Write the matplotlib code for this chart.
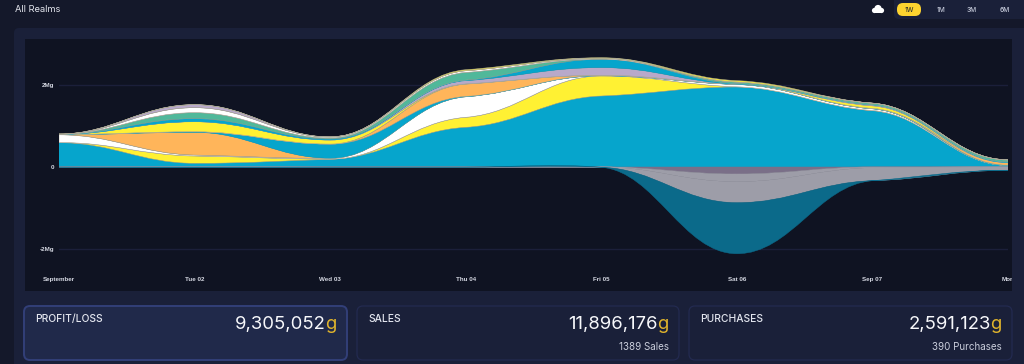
import matplotlib
matplotlib.use('Agg')
import matplotlib.pyplot as plt
import numpy as np
from matplotlib.patches import FancyBboxPatch, PathPatch, Rectangle, Circle
from matplotlib.path import Path
from matplotlib.transforms import Bbox

# values in millions of gold, one per day
days = [0, 1, 2, 3, 4, 5, 6, 7]
day_labels = ['September', 'Tue 02', 'Wed 03', 'Thu 04', 'Fri 05', 'Sat 06', 'Sep 07', 'Mon']

blue_a = [0.593, 0.090, 0.188, 0.968, 1.732, 1.951, 1.373, 0.037]
yellow_a = [0.005, 0.178, 0.005, 0.244, 0.488, 0.005, 0.005, 0.002]
white_a = [0.188, 0.024, 0.017, 0.500, 0.005, 0.056, 0.041, 0.002]
orange_a = [0.002, 0.554, 0.007, 0.002, 0.002, 0.002, 0.002, 0.002]
blue_b = [0.002, 0.012, 0.341, 0.007, 0.002, 0.002, 0.002, 0.002]
orange_b = [0.002, 0.002, 0.002, 0.300, 0.007, 0.002, 0.007, 0.061]
yellow_b = [0.002, 0.244, 0.098, 0.005, 0.002, 0.002, 0.061, 0.002]
lilac_a = [0.002, 0.002, 0.002, 0.080, 0.188, 0.002, 0.024, 0.002]
blue_c = [0.002, 0.073, 0.024, 0.012, 0.202, 0.012, 0.002, 0.012]
green_a = [0.002, 0.146, 0.024, 0.188, 0.007, 0.037, 0.037, 0.049]
white_b = [0.002, 0.122, 0.024, 0.041, 0.017, 0.002, 0.002, 0.002]
lilac_b = [0.002, 0.073, 0.002, 0.002, 0.002, 0.002, 0.002, 0.002]
yellow_c = [0.002, 0.002, 0.002, 0.024, 0.012, 0.032, 0.002, 0.002]

mauve_n = [0, 0, 0, 0, 0, 0.171, 0, 0]
grey_n1 = [0, 0.003, 0, 0, 0, 0.188, 0.020, 0]
grey_n2 = [0, 0.003, 0, 0, 0.005, 0.512, 0.314, 0.080]
teal_n = [0.004, 0.004, 0.004, 0.004, 0.002, 1.244, 0, 0]

pos_series = [blue_a, yellow_a, white_a, orange_a, blue_b, orange_b, yellow_b,
              lilac_a, blue_c, green_a, white_b, lilac_b, yellow_c]
pos_colors = ['#06a5cc', '#fff133', '#ffffff', '#ffb55a', '#06a5cc', '#ffb55a', '#fff133',
              '#b8a9c9', '#06a5cc', '#50b89a', '#ffffff', '#b8a9c9', '#fff133']
neg_series = [mauve_n, grey_n1, grey_n2, teal_n]
neg_colors = ['#7a6f88', '#9d9da8', '#9d9da8', '#0b6a8a']

y_ticks = [2, 0, -2]
y_labels = ['2Mg', '0', '-2Mg']

cards = ['PROFIT/LOSS', 'SALES', 'PURCHASES']
card_values = ['9,305,052', '11,896,176', '2,591,123']
card_notes = ['', '1389 Sales', '390 Purchases']
ranges = ['1W', '1M', '3M', '6M']

W, H = 1024, 364
FONT = 'Inter'


def slopes(y):
    # nearly flat at every day, the reference plateaus at each tick
    y = np.asarray(y, dtype=float)
    m = np.zeros(len(y))
    for i in range(1, len(y) - 1):
        a, b = y[i] - y[i - 1], y[i + 1] - y[i]
        if a * b <= 0:
            continue
        m[i] = 0.25 * (a + b) / 2
    return m


def spline_verts(x, y):
    m = slopes(y)
    verts = [(x[0], y[0])]
    for i in range(len(x) - 1):
        dx = x[i + 1] - x[i]
        verts.append((x[i] + 0.4 * dx, y[i] + 0.4 * dx * m[i]))
        verts.append((x[i + 1] - 0.4 * dx, y[i + 1] - 0.4 * dx * m[i + 1]))
        verts.append((x[i + 1], y[i + 1]))
    return verts


def band(ax, x, low, high, color, edge):
    top = spline_verts(x, high)
    bottom = spline_verts(x, low)[::-1]
    verts = top + [bottom[0]] + bottom[1:] + [top[0]]
    n_top = len(top)
    codes = [Path.MOVETO] + [Path.CURVE4] * (n_top - 1) + [Path.LINETO] + [Path.CURVE4] * (n_top - 1) + [Path.CLOSEPOLY]
    ax.add_patch(PathPatch(Path(verts, codes), facecolor=color, edgecolor=edge, lw=0.35, zorder=3))


def box(ax, x0, y0, x1, y1, fc, ec='none', lw=0, r=4):
    ax.add_patch(FancyBboxPatch((x0 + r, y0 + r), x1 - x0 - 2 * r, y1 - y0 - 2 * r,
                                boxstyle='round,pad=%d,rounding_size=%d' % (r, r),
                                facecolor=fc, edgecolor=ec, linewidth=lw))


fig = plt.figure(figsize=(W / 100, H / 100), dpi=100, facecolor='#14182a')
bg = fig.add_axes([0, 0, 1, 1])
bg.set_xlim(0, W)
bg.set_ylim(H, 0)
bg.axis('off')

# page panels
box(bg, 14, 28, 1040, 380, '#1a2039', r=5)
bg.add_patch(Rectangle((25, 39), 987, 252, facecolor='#0f1322', edgecolor='none'))
bg.text(15, 9, 'All Realms', color='#e4e6ee', fontsize=6.7, family=FONT, va='center')

# range buttons
box(bg, 894, -6, 1040, 19, '#1a2039', r=5)
box(bg, 897, 3, 921, 16, '#fdd32f', r=6)
for label, bx in zip(ranges, [909, 941, 972, 1005]):
    bg.text(bx, 9.5, label, color='#3a3a2a' if label == '1W' else '#c3c8d8', fontsize=4.8,
            family=FONT, ha='center', va='center', weight='medium')

# cloud icon
for cx, cy, r in [(874.5, 10.5, 2.6), (878, 8.5, 3.6), (881.5, 10.5, 2.6)]:
    bg.add_patch(Circle((cx, cy), r, facecolor='white', edgecolor='none'))
bg.add_patch(Rectangle((874.5, 9.5), 7, 3.6, facecolor='white', edgecolor='none'))

# stat cards
card_x = [(24, 347), (357, 679), (689, 1012)]
for i, (x0, x1) in enumerate(card_x):
    if i == 0:
        box(bg, x0, 306, x1, 360, '#20294a', '#323f78', 1.4, r=6)
    else:
        box(bg, x0, 306, x1, 360, '#1a2039', '#232a50', 0.9, r=6)
    bg.text(x0 + 11.5, 319, cards[i], color='#e2e5ee', fontsize=7.4, family=FONT, va='center', weight='medium')
    g = bg.text(x1 - 11, 329, 'g', color='#e0b42c', fontsize=13.3, family=FONT, ha='right', va='baseline')
    ext = g.get_window_extent(fig.canvas.get_renderer())
    bg.text(ext.x0 + 1, 329, card_values[i], color='#f7f8fb', fontsize=13.3, family=FONT, ha='right',
            va='baseline')
    if card_notes[i]:
        bg.text(x1 - 10, 346.5, card_notes[i], color='#c9cddb', fontsize=7.1, family=FONT, ha='right', va='center')

# chart area, pixels 59..1008 across and 2Mg at y=85, 0 at y=167
ax = fig.add_axes([59 / W, 1 - 291 / H, (1008 - 59) / W, (291 - 39) / H])
ax.patch.set_alpha(0)
ax.set_xlim(0, 7)
ax.set_ylim(-124 / 41, 128 / 41)
for s in ax.spines.values():
    s.set_visible(False)
ax.tick_params(length=0, labelbottom=False, labelleft=False)
ax.set_xticks([])
ax.set_yticks([])

for t, lab in zip(y_ticks, y_labels):
    if t != 0:
        ax.axhline(t, color='#1b1f3a', lw=1, zorder=1)
    ax.annotate(lab, (0, t), xytext=(-3.5, -0.7), textcoords='offset points', color='#d5d8e2', fontsize=4.5,
                family='Liberation Sans', weight='bold', ha='right', va='center', annotation_clip=False)

x = np.array(days, dtype=float)
stack = np.zeros(len(days))
for vals, col in zip(pos_series, pos_colors):
    top = stack + np.array(vals)
    band(ax, x, stack, top, col, '#a8a696' if col != '#06a5cc' else col)
    stack = top

stack = np.zeros(len(days))
for vals, col in zip(neg_series, neg_colors):
    low = stack - np.array(vals)
    band(ax, x, low, stack, col, col)
    stack = low

# "Mon" is cut off at the edge of the plot box
clip = Bbox([[25, H - 291], [1012, H - 39]])
for d, lab in zip(days, day_labels):
    t = ax.text(d, -112.7 / 41, lab, color='#d5d8e2', fontsize=4.5, family='Liberation Sans', weight='bold',
                ha='center', va='center', clip_on=True)
    t.set_clip_box(clip)

fig.savefig('out.png', dpi=100, facecolor=fig.get_facecolor())
